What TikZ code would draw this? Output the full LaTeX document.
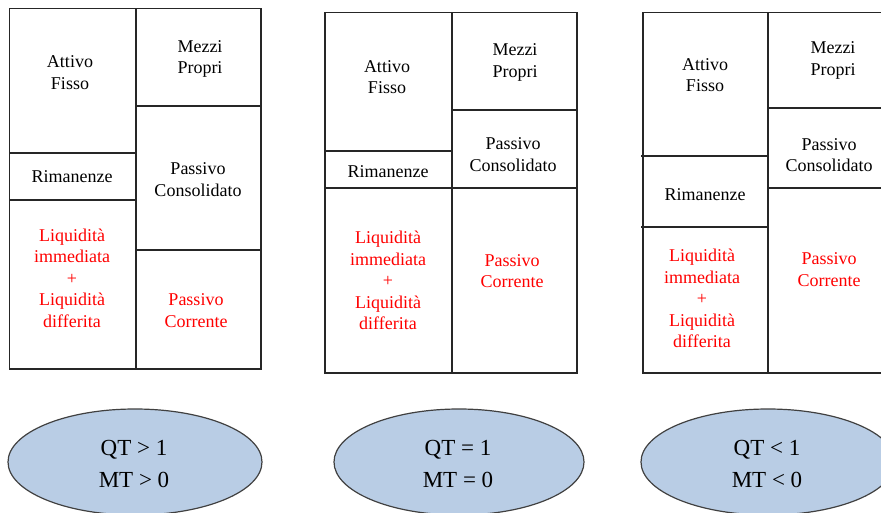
\documentclass[tikz,border=0pt]{standalone}
\usepackage{fontspec}
\setmainfont{Liberation Serif}
\usetikzlibrary{shapes.geometric}
\definecolor{ovalfill}{HTML}{B9CDE5}
\definecolor{liqred}{HTML}{FF0000}
\tikzset{
  cell/.style={draw=black!85, line width=1.4pt},
  lab/.style={align=center, inner sep=0pt, font=\fontsize{18}{21.5}\selectfont},
  redlab/.style={lab, text=liqred},
  oval/.style={ellipse, draw=black!75, line width=1.2pt, fill=ovalfill,
    minimum width=254pt, minimum height=106pt, inner sep=0pt},
  ovaltext/.style={align=center, inner sep=0pt, font=\fontsize{23}{32}\selectfont}
}
\begin{document}
\begin{tikzpicture}[x=1pt, y=-1pt]
\useasboundingbox (0,0) rectangle (881,512);
\clip (0,0) rectangle (881,512);

% ---- first balance sheet: QT > 1 ----
\draw[cell] (9.5,8.5) rectangle (261,369);
\draw[cell] (136,8.5) -- (136,369);
\draw[cell] (9.5,153) -- (136,153);
\draw[cell] (9.5,200) -- (136,200);
\draw[cell] (136,106) -- (261,106);
\draw[cell] (136,250) -- (261,250);
\node[lab] (af1) at (70,72.5) {Attivo\\Fisso};
\node[lab] (mp1) at (200,59) {Mezzi\\Propri};
\node[lab] (ri1) at (72,177) {Rimanenze};
\node[lab] (pc1) at (198,179.5) {Passivo\\Consolidato};
\node[redlab] (li1) at (72,278) {Liquidità\\immediata\\+\\Liquidità\\differita};
\node[redlab] (pr1) at (196,310.5) {Passivo\\Corrente};

% ---- second balance sheet: QT = 1 ----
\draw[cell] (325,12.5) rectangle (577,373);
\draw[cell] (452,12.5) -- (452,373);
\draw[cell] (325,151) -- (452,151);
\draw[cell] (325,188) -- (577,188);
\draw[cell] (452,110) -- (577,110);
\node[lab] (af2) at (387,77) {Attivo\\Fisso};
\node[lab] (mp2) at (515,62.5) {Mezzi\\Propri};
\node[lab] (ri2) at (388,172) {Rimanenze};
\node[lab] (pc2) at (513,154.5) {Passivo\\Consolidato};
\node[redlab] (li2) at (388,280.5) {Liquidità\\immediata\\+\\Liquidità\\differita};
\node[redlab] (pr2) at (512,271) {Passivo\\Corrente};

% ---- third balance sheet: QT < 1 ----
\draw[cell] (643,12.5) rectangle (895,373);
\draw[cell] (768,12.5) -- (768,373);
\draw[cell] (641,156) -- (768,156);
\draw[cell] (641,227) -- (768,227);
\draw[cell] (768,108) -- (895,108);
\draw[cell] (768,188) -- (895,188);
\node[lab] (af3) at (705,75) {Attivo\\Fisso};
\node[lab] (mp3) at (833,60.5) {Mezzi\\Propri};
\node[lab] (ri3) at (705,195) {Rimanenze};
\node[lab] (pc3) at (829,155) {Passivo\\Consolidato};
\node[redlab] (li3) at (702,298.5) {Liquidità\\immediata\\+\\Liquidità\\differita};
\node[redlab] (pr3) at (829,269.5) {Passivo\\Corrente};

% ---- quick ratio / margin of treasury ----
\node[oval] (o1) at (135,462) {};
\node[ovaltext] (t1) at (134,464) {QT > 1\\MT > 0};
\node[oval, minimum width=250pt] (o2) at (459,462) {};
\node[ovaltext] (t2) at (458,464) {QT = 1\\MT = 0};
\node[oval] (o3) at (768,462) {};
\node[ovaltext] (t3) at (767,464) {QT < 1\\MT < 0};
\end{tikzpicture}
\end{document}
